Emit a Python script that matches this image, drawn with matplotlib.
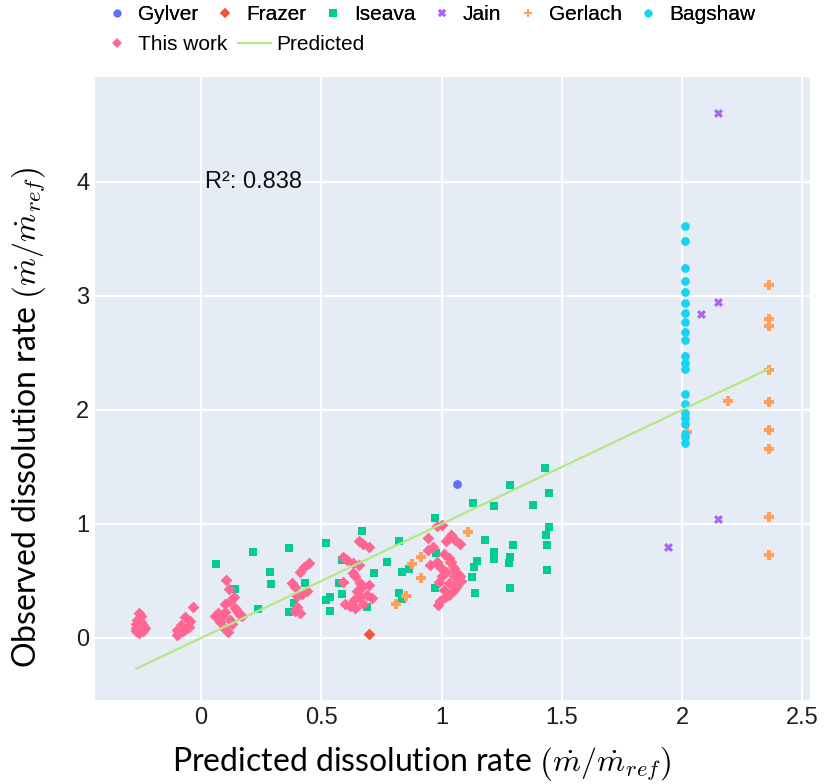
import numpy as np
import matplotlib
matplotlib.use('Agg')
import matplotlib.pyplot as plt
from matplotlib.lines import Line2D

plt.rcParams['font.family'] = ['Liberation Sans', 'DejaVu Sans']
plt.rcParams['mathtext.fontset'] = 'cm'

# data
gylver_x = [1.064]
gylver_y = [1.35]

frazer_x = [0.70]
frazer_y = [0.035]

iseava_x = [0.064, 0.215, 0.288, 0.291, 0.142, 0.238, 0.364, 0.364, 0.388, 0.432,
            0.52, 0.52, 0.537, 0.537, 0.574, 0.588, 0.584, 0.671, 0.689, 0.72,
            0.772, 0.825, 0.834, 0.866, 0.823, 0.837, 0.973, 0.977, 0.973, 1.131,
            1.217, 1.283, 1.43, 1.447, 1.382, 1.445, 1.435, 1.437, 1.437, 1.18,
            1.295, 1.217, 1.217, 1.286, 1.279, 1.149, 1.135, 1.127, 1.138, 1.286]
iseava_y = [0.65, 0.75, 0.576, 0.476, 0.427, 0.257, 0.79, 0.225, 0.307, 0.485,
            0.836, 0.333, 0.357, 0.237, 0.48, 0.383, 0.684, 0.936, 0.275, 0.567,
            0.667, 0.853, 0.579, 0.603, 0.397, 0.345, 1.05, 0.743, 0.436, 1.187,
            1.16, 1.345, 1.49, 1.27, 1.164, 0.971, 0.906, 0.813, 0.594, 0.862,
            0.816, 0.757, 0.693, 0.71, 0.655, 0.673, 0.62, 0.532, 0.392, 0.436]

jain_x = [2.15, 2.15, 2.08, 2.15, 1.94]
jain_y = [4.60, 2.95, 2.84, 1.04, 0.80]

gerlach_x = [2.36, 2.36, 2.36, 2.36, 2.36, 2.36, 2.36, 2.36, 2.36, 2.19, 2.02,
             1.11, 0.916, 0.879, 0.916, 0.852, 0.812, 1.035]
gerlach_y = [3.10, 2.80, 2.74, 2.35, 2.07, 1.82, 1.66, 1.06, 0.73, 2.08, 1.81,
             0.93, 0.71, 0.65, 0.53, 0.37, 0.30, 0.66]

bagshaw_x = [2.014] * 21
bagshaw_y = [3.617, 3.482, 3.243, 3.132, 3.035, 2.939, 2.851, 2.772, 2.687, 2.614,
             2.476, 2.415, 2.357, 2.140, 2.050, 1.971, 1.932, 1.880, 1.789, 1.766, 1.711]

work_x = [-0.26, -0.25, -0.265, -0.25, -0.27, -0.24, -0.27, -0.25, -0.27, -0.24, -0.26, -0.255, -0.235,
          -0.035, -0.065, -0.045, -0.085, -0.1, -0.09, -0.06, -0.075, -0.05, -0.1,
          0.105, 0.115, 0.135, 0.10, 0.12, 0.15, 0.085, 0.12, 0.16, 0.07, 0.10, 0.13, 0.10, 0.14,
          0.17, 0.08, 0.11, 0.06,
          0.45, 0.43, 0.41, 0.38, 0.39, 0.42, 0.40, 0.44, 0.40, 0.41, 0.39,
          0.655, 0.675, 0.70, 0.59, 0.605, 0.63, 0.655, 0.63, 0.64, 0.59, 0.70, 0.67, 0.66,
          0.635, 0.62, 0.675, 0.65, 0.69, 0.60, 0.64, 0.71, 0.66,
          0.98, 1.0, 0.945, 1.04, 1.055, 1.075, 1.02, 1.03, 0.965, 0.945, 1.01, 1.03, 0.98,
          1.04, 0.95, 0.995, 1.05, 1.0, 1.05, 1.075, 0.99, 1.03, 1.065, 1.01, 1.05, 1.015,
          0.995, 0.985, 1.06, 1.02, 1.08, 1.03, 1.06]
work_y = [0.22, 0.19, 0.16, 0.14, 0.12, 0.11, 0.09, 0.08, 0.06, 0.06, 0.04, 0.13, 0.09,
          0.27, 0.18, 0.15, 0.11, 0.07, 0.04, 0.09, 0.06, 0.10, 0.03,
          0.51, 0.43, 0.36, 0.30, 0.32, 0.24, 0.19, 0.16, 0.20, 0.22, 0.23, 0.12, 0.08, 0.26,
          0.19, 0.14, 0.05, 0.19,
          0.66, 0.62, 0.58, 0.48, 0.45, 0.39, 0.37, 0.41, 0.27, 0.22, 0.24,
          0.85, 0.82, 0.80, 0.71, 0.68, 0.655, 0.64, 0.57, 0.54, 0.49, 0.465, 0.45, 0.36,
          0.33, 0.28, 0.30, 0.41, 0.38, 0.30, 0.26, 0.35, 0.48,
          0.98, 0.99, 0.88, 0.90, 0.86, 0.82, 0.85, 0.88, 0.80, 0.77, 0.74, 0.70, 0.67,
          0.67, 0.64, 0.625, 0.61, 0.54, 0.54, 0.54, 0.49, 0.48, 0.48, 0.42, 0.42, 0.36,
          0.32, 0.29, 0.58, 0.58, 0.50, 0.38, 0.45]

pred_x = [-0.27, 2.36]
pred_y = [-0.27, 2.36]

r2_text = 'R²: 0.838'

fig = plt.figure(figsize=(8.24, 7.84), dpi=100)
ax = fig.add_axes([95 / 824, 1 - 700 / 784, 715 / 824, 623 / 784])
ax.set_facecolor('#E5ECF6')

series = [
    ('Gylver', gylver_x, gylver_y, 'o', '#636EFA', 40),
    ('Frazer', frazer_x, frazer_y, 'D', '#EF553B', 36),
    ('Iseava', iseava_x, iseava_y, 's', '#00CC96', 40),
    ('Jain', jain_x, jain_y, 'X', '#AB63FA', 42),
    ('Gerlach', gerlach_x, gerlach_y, 'P', '#FFA15A', 45),
    ('Bagshaw', bagshaw_x, bagshaw_y, 'o', '#19D3F3', 40),
    ('This work', work_x, work_y, 'D', '#FF6692', 36),
]

handles = []
for name, xs, ys, mk, col, s in series:
    ax.scatter(xs, ys, marker=mk, s=s, c=col, linewidths=0, zorder=3)
    handles.append(Line2D([], [], marker=mk, color=col, linestyle='none',
                          markersize=np.sqrt(s) * 0.9, markeredgewidth=0, label=name))

ax.plot(pred_x, pred_y, color='#B6E880', lw=1.6, zorder=4)
handles.append(Line2D([], [], color='#B6E880', lw=1.6, label='Predicted'))

ax.set_xlim(-0.441, 2.532)
ax.set_ylim(-0.544, 4.92)
ax.set_xticks([0, 0.5, 1, 1.5, 2, 2.5])
ax.set_xticklabels(['0', '0.5', '1', '1.5', '2', '2.5'])
ax.set_yticks([0, 1, 2, 3, 4])
ax.grid(True, color='white', lw=1.5)
ax.set_axisbelow(True)
for sp in ax.spines.values():
    sp.set_visible(False)
ax.tick_params(length=0, labelsize=17, colors='#1e1e1e')
ax.tick_params(axis='x', pad=5)
ax.tick_params(axis='y', pad=4)

ax.set_xlabel(r'Predicted dissolution rate $\left(\dot{m}/\dot{m}_{ref}\right)$',
              family='Lato', fontsize=23)
ax.set_ylabel(r'Observed dissolution rate $\left(\dot{m}/\dot{m}_{ref}\right)$',
              family='Lato', fontsize=23)
ax.xaxis.set_label_coords(0.457, -0.0715)
ax.yaxis.set_label_coords(-0.066, 0.454)

ax.text(0.017, 4, r2_text, fontsize=17, ha='left', va='center', color='#111111')

leg1 = fig.legend(handles=handles[:6], loc='center left', ncol=6, frameon=False,
                  bbox_to_anchor=(107 / 824, 1 - 15 / 784), borderpad=0, borderaxespad=0,
                  handlelength=1.0, handletextpad=0.5, columnspacing=0.78,
                  fontsize=15)
fig.legend(handles=handles[6:], loc='center left', ncol=2, frameon=False,
           bbox_to_anchor=(101 / 824, 1 - 45 / 784), borderpad=0, borderaxespad=0,
           handlelength=1.55, handletextpad=0.25, columnspacing=0.5,
           fontsize=15)
fig.add_artist(leg1)

fig.savefig('out.png', dpi=100)
